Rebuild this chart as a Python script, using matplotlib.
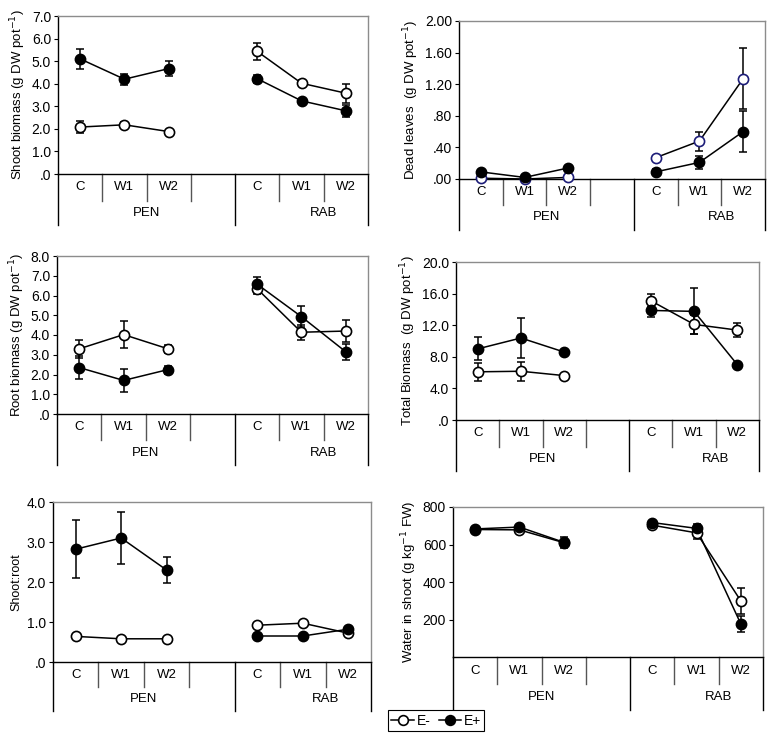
import numpy as np
import matplotlib
matplotlib.use('Agg')
import matplotlib.pyplot as plt
from matplotlib.lines import Line2D

plt.rcParams['font.family'] = ['Liberation Sans', 'DejaVu Sans']

treatments = ['C', 'W1', 'W2']
groups = ['PEN', 'RAB']

# values are [PEN C, W1, W2, RAB C, W1, W2]
shoot_em = [2.08, 2.18, 1.88, 5.43, 4.02, 3.58]
shoot_em_err = [0.27, 0.13, 0.08, 0.38, 0.13, 0.42]
shoot_ep = [5.1, 4.2, 4.67, 4.22, 3.24, 2.8]
shoot_ep_err = [0.43, 0.25, 0.35, 0.18, 0.1, 0.27]

dead_em = [0.01, 0.0, 0.02, 0.27, 0.48, 1.27]
dead_em_err = [0.0, 0.0, 0.0, 0.0, 0.12, 0.39]
dead_ep = [0.09, 0.02, 0.14, 0.09, 0.21, 0.6]
dead_ep_err = [0.0, 0.0, 0.0, 0.04, 0.08, 0.26]

root_em = [3.3, 4.02, 3.3, 6.35, 4.14, 4.2]
root_em_err = [0.45, 0.68, 0.2, 0.25, 0.38, 0.55]
root_ep = [2.35, 1.7, 2.25, 6.58, 4.93, 3.15]
root_ep_err = [0.58, 0.6, 0.2, 0.35, 0.55, 0.4]

total_em = [6.1, 6.17, 5.62, 15.1, 12.1, 11.38]
total_em_err = [1.1, 1.2, 0.0, 0.8, 1.2, 0.9]
total_ep = [9.0, 10.38, 8.6, 13.87, 13.75, 7.0]
total_ep_err = [1.45, 2.55, 0.0, 0.8, 2.9, 0.0]

ratio_em = [0.64, 0.58, 0.58, 0.92, 0.97, 0.72]
ratio_em_err = [0, 0, 0, 0, 0, 0]
ratio_ep = [2.82, 3.1, 2.3, 0.65, 0.65, 0.82]
ratio_ep_err = [0.72, 0.65, 0.33, 0, 0, 0]

water_em = [680, 678, 610, 703, 662, 299]
water_em_err = [0, 0, 0, 0, 32, 67]
water_ep = [683, 693, 612, 717, 686, 176]
water_ep_err = [0, 0, 30, 0, 22, 42]

W, H = 773, 739
fig = plt.figure(figsize=(W / 100, H / 100), dpi=100)

xpos = [0, 1, 2, 4, 5, 6]


def panel(box, em, em_err, ep, ep_err, ymax, yticks, ylabels, ylabel,
          em_edge='black', lab_size=9.5):
    left, right, top, bottom, r1, r2 = box
    ax = fig.add_axes([left / W, 1 - bottom / H, (right - left) / W, (bottom - top) / H])
    ph = bottom - top
    for series, err, face, edge in [(em, em_err, 'white', em_edge), (ep, ep_err, 'black', 'black')]:
        for g in range(2):
            xs = xpos[g * 3:g * 3 + 3]
            ys = series[g * 3:g * 3 + 3]
            es = err[g * 3:g * 3 + 3]
            ax.errorbar(xs, ys, yerr=es, color='black', lw=1.1, elinewidth=1.1,
                        capsize=3, capthick=1.1, zorder=2, clip_on=False)
            ax.plot(xs, ys, 'o', ms=7.3, mfc=face, mec=edge, mew=1.2, zorder=3, clip_on=False)
    ax.set_xlim(-0.5, 6.5)
    ax.set_ylim(0, ymax)
    ax.set_yticks(yticks)
    ax.set_yticklabels(ylabels, fontsize=10)
    ax.set_xticks([])
    ax.tick_params(axis='y', length=3, width=0.8, pad=2)
    ax.set_ylabel(ylabel, fontsize=lab_size, labelpad=3)
    for s in ['top', 'right']:
        ax.spines[s].set_color('#8c8c8c')
    for s in ['left', 'bottom']:
        ax.spines[s].set_color('black')
    for s in ax.spines.values():
        s.set_linewidth(1.0)
    # category boxes below the axis
    tr = ax.get_xaxis_transform()
    y1 = -(r1 - bottom) / ph
    y2 = -(r2 - bottom) / ph
    for xb in [0.5, 1.5, 2.5, 4.5, 5.5]:
        ax.add_line(Line2D([xb, xb], [0, y1], transform=tr, color='#555555', lw=1.0, clip_on=False))
    for xb in [-0.5, 3.5, 6.5]:
        ax.add_line(Line2D([xb, xb], [0, y2], transform=tr, color='black', lw=1.0, clip_on=False))
    for i, x in enumerate(xpos):
        ax.text(x, y1 / 2, treatments[i % 3], transform=tr, ha='center', va='center', fontsize=9.5)
    ax.text(1.5, (y1 + y2) / 2, groups[0], transform=tr, ha='center', va='center', fontsize=9.5)
    ax.text(5.5, (y1 + y2) / 2, groups[1], transform=tr, ha='center', va='center', fontsize=9.5)
    return ax


panel((58, 368, 16, 174, 201, 225), shoot_em, shoot_em_err, shoot_ep, shoot_ep_err, 7,
      np.arange(0, 7.1, 1), ['.0', '1.0', '2.0', '3.0', '4.0', '5.0', '6.0', '7.0'],
      'Shoot biomass (g DW pot$^{-1}$)')
panel((459, 765, 21, 179, 205, 230), dead_em, dead_em_err, dead_ep, dead_ep_err, 2.0,
      [0, 0.4, 0.8, 1.2, 1.6, 2.0], ['.00', '.40', '.80', '1.20', '1.60', '2.00'],
      'Dead leaves  (g DW pot$^{-1}$)', em_edge='#1c1c78')
panel((57, 368, 256, 414, 440, 465), root_em, root_em_err, root_ep, root_ep_err, 8,
      np.arange(0, 8.1, 1), ['.0', '1.0', '2.0', '3.0', '4.0', '5.0', '6.0', '7.0', '8.0'],
      'Root biomass (g DW pot$^{-1}$)')
panel((456, 759, 262, 420, 447, 471), total_em, total_em_err, total_ep, total_ep_err, 20,
      [0, 4, 8, 12, 16, 20], ['.0', '4.0', '8.0', '12.0', '16.0', '20.0'],
      'Total Biomass  (g DW pot$^{-1}$)')
panel((53, 371, 502, 662, 687, 711), ratio_em, ratio_em_err, ratio_ep, ratio_ep_err, 4,
      [0, 1, 2, 3, 4], ['.0', '1.0', '2.0', '3.0', '4.0'], 'Shoot:root', lab_size=9)
panel((453, 763, 507, 657, 684, 710), water_em, water_em_err, water_ep, water_ep_err, 800,
      [200, 400, 600, 800], ['200', '400', '600', '800'],
      'Water in shoot (g kg$^{-1}$ FW)')

handles = [Line2D([], [], color='black', lw=1.1, marker='o', ms=7, mfc='white', mec='black', mew=1.2),
           Line2D([], [], color='black', lw=1.1, marker='o', ms=7, mfc='black', mec='black', mew=1.2)]
leg = fig.legend(handles, ['E-', 'E+'], ncol=2, loc='lower left',
                 bbox_to_anchor=(388 / W, 1 - 731 / H), frameon=True, fancybox=False,
                 edgecolor='black', framealpha=1, fontsize=10, handlelength=1.6,
                 handletextpad=0.2, columnspacing=0.6, borderpad=0.25, borderaxespad=0)
leg.get_frame().set_linewidth(0.8)

fig.savefig('out.png', dpi=100)
